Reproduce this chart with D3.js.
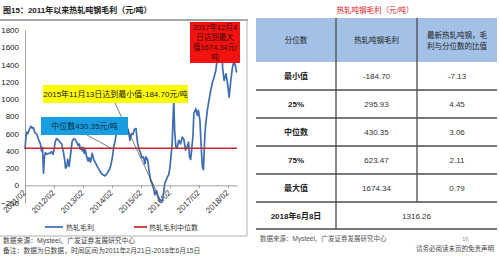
<!DOCTYPE html>
<html>
<head>
<meta charset="utf-8">
<script src="https://cdn.jsdelivr.net/npm/d3@7"></script>
<style>
body { margin: 0; background: #fff; }
svg { display: block; font-family: "Liberation Sans", "Noto Sans CJK SC", sans-serif; }
</style>
</head>
<body>
<svg id="chart" width="499" height="256"></svg>
<script>
// hot-rolled steel margin, yuan/ton
var dates = ["2011-02-21","2011-03-05","2011-03-17","2011-03-30","2011-04-18","2011-05-06","2011-05-24","2011-06-06","2011-06-26","2011-07-21",
  "2011-08-15","2011-09-03","2011-09-17","2011-09-30","2011-10-12","2011-10-24","2011-11-06","2011-11-24","2011-12-15","2012-01-02",
  "2012-01-21","2012-02-09","2012-02-23","2012-03-07","2012-03-25","2012-04-12","2012-05-09","2012-05-27","2012-06-15","2012-07-04",
  "2012-07-16","2012-07-30","2012-08-12","2012-08-30","2012-09-19","2012-10-07","2012-10-27","2012-11-15","2012-12-04","2012-12-22",
  "2013-01-05","2013-01-17","2013-01-30","2013-02-11","2013-02-24","2013-03-08","2013-03-21","2013-04-08","2013-04-27","2013-05-09",
  "2013-05-27","2013-06-16","2013-07-05","2013-07-23","2013-08-19","2013-09-13","2013-10-08","2013-11-03","2013-11-28","2013-12-23",
  "2014-01-18","2014-02-06","2014-02-27","2014-03-15","2014-04-03","2014-04-21","2014-05-10","2014-06-05","2014-06-30","2014-07-25",
  "2014-08-21","2014-09-15","2014-10-05","2014-10-25","2014-11-12","2014-12-01","2014-12-20","2015-01-08","2015-01-27","2015-02-15",
  "2015-03-05","2015-03-25","2015-04-12","2015-04-25","2015-05-15","2015-06-05","2015-06-22","2015-07-10","2015-07-28","2015-08-15",
  "2015-09-05","2015-09-22","2015-10-12","2015-11-13","2015-11-25","2015-12-08","2015-12-20","2016-01-05","2016-01-20","2016-02-05",
  "2016-02-20","2016-03-05","2016-03-20","2016-04-01","2016-04-10","2016-04-20","2016-05-05","2016-05-20","2016-06-12","2016-07-05",
  "2016-07-25","2016-08-15","2016-09-05","2016-09-25","2016-10-12","2016-10-25","2016-11-08","2016-11-25","2016-12-08","2016-12-18",
  "2017-01-12","2017-02-01","2017-02-14","2017-03-05","2017-03-21","2017-04-05","2017-04-18","2017-05-05","2017-05-16","2017-06-06",
  "2017-06-27","2017-07-19","2017-08-10","2017-08-30","2017-09-21","2017-10-12","2017-11-03","2017-11-20","2017-12-04","2017-12-15",
  "2018-01-04","2018-01-27","2018-02-17","2018-03-08","2018-03-29","2018-04-19","2018-05-10","2018-05-30","2018-06-08","2018-06-15"];
var margins = [420,560,618,600,650,684,660,670,610,590,
  520,480,400,440,140,330,380,360,370,370,
  390,360,420,503,542,530,500,480,407,300,
  200,215,300,220,370,510,540,530,500,460,
  480,420,440,400,440,370,420,330,280,320,
  270,370,300,270,220,180,140,120,110,140,
  180,230,330,445,520,634,720,760,740,720,
  690,640,520,600,590,650,660,500,420,380,
  320,330,250,330,300,160,60,20,-30,-110,
  -60,-140,-170,-184.7,-140,-50,30,60,100,120,
  200,330,480,800,990,640,450,430,522,480,
  560,530,407,450,500,330,300,450,580,830,
  888,810,868,753,445,215,180,560,700,868,
  984,1099,1195,1253,1330,1484,1541,1600,1674.34,1370,
  1215,1291,1176,1022,1215,1368,1445,1368,1316.26,1310];
var medianValue = 430.35;
var minDate = "2015-11-13", minValue = -184.7;
var yTicks = [-200,0,200,400,600,800,1000,1200,1400,1600,1800];
var tickYears = [2011,2012,2013,2014,2015,2016,2017,2018];

// table on the right
var tableHead = ["分位数", "热轧吨钢毛利", ["最新热轧吨钢，毛", "利与分位数的比值"]];
var rowNames = ["最小值", "25%", "中位数", "75%", "最大值"];
var rowMargin = ["-184.70", "295.93", "430.35", "623.47", "1674.34"];
var rowRatio = ["-7.13", "4.45", "3.06", "2.11", "0.79"];
var latestName = "2018年6月8日", latestValue = "1316.26";

var parse = d3.timeParse("%Y-%m-%d");
var series = dates.map(function (d, i) { return { date: parse(d), v: margins[i] }; });

var svg = d3.select("#chart");

// ---------- left panel ----------
svg.append("text").attr("x", 3).attr("y", 13)
  .style("font-size", "8px").style("font-weight", "bold").attr("fill", "#222")
  .text("图15：2011年以来热轧吨钢毛利（元/吨）");

svg.append("line").attr("x1", 0).attr("x2", 248).attr("y1", 20).attr("y2", 20)
  .attr("stroke", "#8a8a8a").attr("stroke-width", 1.5);
svg.append("line").attr("x1", 247).attr("x2", 247).attr("y1", 20).attr("y2", 236)
  .attr("stroke", "#b0b0b0").attr("stroke-width", 1);
svg.append("line").attr("x1", 0).attr("x2", 247).attr("y1", 236).attr("y2", 236)
  .attr("stroke", "#b0b0b0").attr("stroke-width", 1);

var x = d3.scaleTime().domain([parse(dates[0]), parse(dates[dates.length - 1])]).range([25, 237]);
var y = d3.scaleLinear().domain([-200, 1800]).range([202.6, 30]);

var yAxis = svg.append("g").attr("transform", "translate(25,0)")
  .call(d3.axisLeft(y).tickValues(yTicks).tickFormat(d3.format("d")).tickSize(0).tickPadding(6));
yAxis.select(".domain").attr("stroke", "#a0a0a0");
yAxis.selectAll("text").style("font-size", "8px").attr("fill", "#222")
  .style("font-family", "Liberation Sans, sans-serif");

var xAxis = svg.append("g").attr("transform", "translate(0," + y(0) + ")")
  .call(d3.axisBottom(x)
    .tickValues(tickYears.map(function (yr) { return new Date(yr, 1, 21); }))
    .tickFormat(d3.timeFormat("%Y/%m")).tickSize(3).tickSizeOuter(0));
xAxis.select(".domain").attr("stroke", "#a0a0a0");
xAxis.selectAll("line").attr("stroke", "#a0a0a0");
xAxis.selectAll("text")
  .attr("x", 0).attr("y", 0).attr("dy", "0.35em")
  .attr("transform", "translate(-1,6) rotate(-45)")
  .style("text-anchor", "end").style("font-size", "8px").attr("fill", "#333")
  .style("font-family", "Liberation Sans, sans-serif");

var line = d3.line().x(function (d) { return x(d.date); }).y(function (d) { return y(d.v); });
svg.append("path").datum(series).attr("d", line)
  .attr("fill", "none").attr("stroke", "#3f6db4").attr("stroke-width", 1.7)
  .attr("stroke-linejoin", "round");

svg.append("line").attr("x1", x.range()[0]).attr("x2", x.range()[1])
  .attr("y1", y(medianValue)).attr("y2", y(medianValue))
  .attr("stroke", "#c9282b").attr("stroke-width", 1.6);

// pointer lines
svg.append("line").attr("x1", 115).attr("y1", 103)
  .attr("x2", x(parse(minDate)) - 1).attr("y2", y(minValue))
  .attr("stroke", "#444").attr("stroke-width", 0.7);
svg.append("line").attr("x1", 87).attr("y1", 135)
  .attr("x2", 111).attr("y2", y(medianValue))
  .attr("stroke", "#444").attr("stroke-width", 0.7);

// callout boxes
svg.append("rect").attr("x", 190).attr("y", 22).attr("width", 50).attr("height", 41).attr("fill", "#f2130f");
["2017年12月4", "日达到最大", "值1674.34元/", "吨"].forEach(function (t, i) {
  svg.append("text").attr("x", 215).attr("y", 30 + i * 10).attr("text-anchor", "middle")
    .style("font-size", "7.5px").attr("fill", "#3a0808").text(t);
});

svg.append("rect").attr("x", 43).attr("y", 85).attr("width", 145).attr("height", 18).attr("fill", "#ffff00");
svg.append("text").attr("x", 115.5).attr("y", 97).attr("text-anchor", "middle")
  .style("font-size", "8px").attr("fill", "#111").text("2015年11月13日达到最小值-184.70元/吨");

svg.append("rect").attr("x", 41).attr("y", 117).attr("width", 87).attr("height", 18).attr("fill", "#189ee0");
svg.append("text").attr("x", 84.5).attr("y", 129).attr("text-anchor", "middle")
  .style("font-size", "8px").attr("fill", "#0b2a44").text("中位数430.35元/吨");

// legend
svg.append("line").attr("x1", 45).attr("x2", 63).attr("y1", 227).attr("y2", 227)
  .attr("stroke", "#3f6db4").attr("stroke-width", 1.7);
svg.append("text").attr("x", 66).attr("y", 230).style("font-size", "7px").attr("fill", "#333").text("热轧毛利");
svg.append("line").attr("x1", 134).attr("x2", 147).attr("y1", 227).attr("y2", 227)
  .attr("stroke", "#c9282b").attr("stroke-width", 1.7);
svg.append("text").attr("x", 149).attr("y", 230).style("font-size", "7px").attr("fill", "#333").text("热轧毛利中位数");

svg.append("text").attr("x", 3).attr("y", 243).style("font-size", "6.8px").attr("fill", "#444")
  .text("数据来源：Mysteel、广发证券发展研究中心");
svg.append("text").attr("x", 3).attr("y", 253).style("font-size", "6.8px").attr("fill", "#444")
  .text("备注：数据为日数据，时间区间为2011年2月21日-2018年6月15日");

// ---------- right panel: table ----------
svg.append("text").attr("x", 375).attr("y", 13).attr("text-anchor", "middle")
  .style("font-size", "7.5px").attr("fill", "#e0201b").text("热轧吨钢毛利（元/吨）");

var colX = [256, 336, 417, 497];
var rowY = [18, 62, 90, 118, 146, 174, 202, 229];
var colMid = function (i) { return (colX[i] + colX[i + 1]) / 2; };

svg.append("rect").attr("x", colX[0]).attr("y", rowY[0])
  .attr("width", colX[3] - colX[0]).attr("height", rowY[1] - rowY[0]).attr("fill", "#a3c1e7");

tableHead.forEach(function (h, i) {
  var lines = Array.isArray(h) ? h : [h];
  lines.forEach(function (t, j) {
    svg.append("text").attr("x", colMid(i))
      .attr("y", (rowY[0] + rowY[1]) / 2 + 3 + (j - (lines.length - 1) / 2) * 11)
      .attr("text-anchor", "middle").style("font-size", "7.5px").attr("fill", "#222").text(t);
  });
});

rowNames.forEach(function (name, i) {
  var cy = (rowY[i + 1] + rowY[i + 2]) / 2 + 3;
  svg.append("text").attr("x", colMid(0)).attr("y", cy).attr("text-anchor", "middle")
    .style("font-size", "8px").style("font-weight", "bold").attr("fill", "#222").text(name);
  svg.append("text").attr("x", colMid(1)).attr("y", cy).attr("text-anchor", "middle")
    .style("font-size", "8px").attr("fill", "#333").text(rowMargin[i]);
  svg.append("text").attr("x", colMid(2)).attr("y", cy).attr("text-anchor", "middle")
    .style("font-size", "8px").attr("fill", "#333").text(rowRatio[i]);
});
var lastY = (rowY[6] + rowY[7]) / 2 + 3;
svg.append("text").attr("x", colMid(0)).attr("y", lastY).attr("text-anchor", "middle")
  .style("font-size", "8px").style("font-weight", "bold").attr("fill", "#222").text(latestName);
svg.append("text").attr("x", (colX[1] + colX[3]) / 2).attr("y", lastY).attr("text-anchor", "middle")
  .style("font-size", "8px").attr("fill", "#333").text(latestValue);

rowY.slice(2).forEach(function (ry) {
  svg.append("line").attr("x1", colX[0]).attr("x2", colX[3]).attr("y1", ry).attr("y2", ry)
    .attr("stroke", "#4a4a4a").attr("stroke-width", 1.3);
});
svg.append("line").attr("x1", colX[1]).attr("x2", colX[1]).attr("y1", rowY[0]).attr("y2", rowY[7])
  .attr("stroke", "#4a4a4a").attr("stroke-width", 1.3);
svg.append("line").attr("x1", colX[2]).attr("x2", colX[2]).attr("y1", rowY[0]).attr("y2", rowY[6])
  .attr("stroke", "#4a4a4a").attr("stroke-width", 1.3);

svg.append("text").attr("x", 260).attr("y", 241).style("font-size", "6.5px").attr("fill", "#555")
  .text("数据来源：Mysteel、广发证券发展研究中心");
svg.append("text").attr("x", 462).attr("y", 241).style("font-size", "6px").attr("fill", "#999").text("16");
svg.append("text").attr("x", 494).attr("y", 251).attr("text-anchor", "end")
  .style("font-size", "6.5px").attr("fill", "#444").text("请务必阅读末页的免责声明");
</script>
</body>
</html>
